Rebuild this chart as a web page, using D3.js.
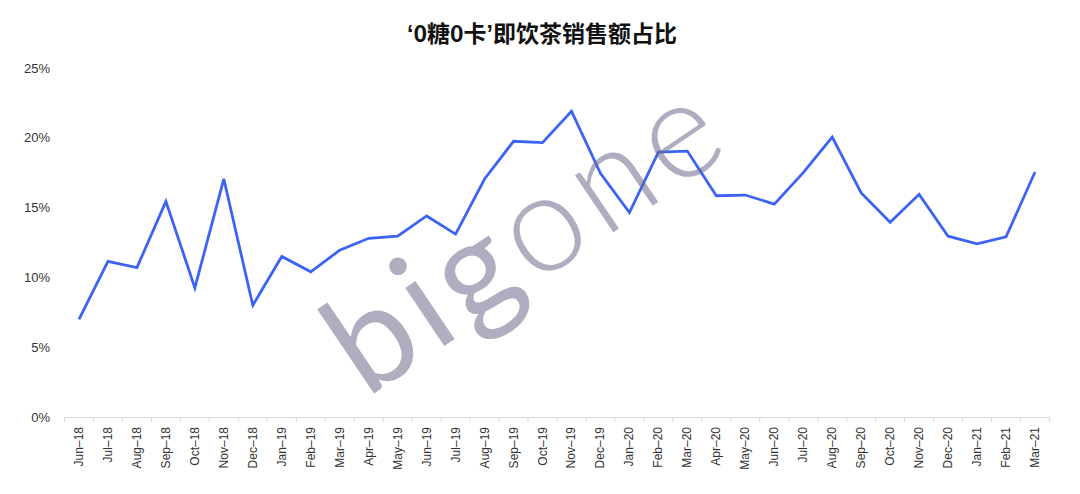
<!DOCTYPE html>
<html>
<head>
<meta charset="utf-8">
<script src="https://cdn.jsdelivr.net/npm/d3@7"></script>
<style>
  html, body { margin: 0; padding: 0; background: #fff; }
  svg { display: block; }
</style>
</head>
<body>
<svg id="chart" width="1080" height="494"></svg>
<script>
const months = ["Jun–18","Jul–18","Aug–18","Sep–18","Oct–18","Nov–18","Dec–18",
  "Jan–19","Feb–19","Mar–19","Apr–19","May–19","Jun–19","Jul–19","Aug–19","Sep–19","Oct–19","Nov–19","Dec–19",
  "Jan–20","Feb–20","Mar–20","Apr–20","May–20","Jun–20","Jul–20","Aug–20","Sep–20","Oct–20","Nov–20","Dec–20",
  "Jan–21","Feb–21","Mar–21"];
const shareValues = [7.0, 11.15, 10.7, 15.45, 9.25, 17.05, 8.0,
  11.5, 10.4, 11.95, 12.8, 12.95, 14.4, 13.1, 17.05, 19.75, 19.65, 21.9, 17.45,
  14.65, 18.98, 19.05, 15.85, 15.9, 15.25, 17.5, 20.05, 16.05, 13.95, 15.95, 12.95,
  12.4, 12.9, 17.55];
const yTicks = [0, 5, 10, 15, 20, 25];
const titleParts = [
  { t: "‘", latin: true }, { t: "0糖0卡", latin: false }, { t: "’", latin: true },
  { t: "即饮茶销售额占比", latin: false }
];
const watermarkParts = [{ t: "big", heavy: true }, { t: "one", heavy: false }];

const svg = d3.select("#chart");
const margin = { left: 64.5, right: 1049.5, top: 68, bottom: 417 };

const x = d3.scaleBand().domain(months).range([margin.left, margin.right]).padding(0);
const y = d3.scaleLinear().domain([0, 25]).range([margin.bottom, margin.top]);

// Title
const title = svg.append("text")
  .attr("x", 542).attr("y", 42)
  .attr("text-anchor", "middle")
  .attr("font-family", "'Noto Sans CJK SC', 'Noto Sans', sans-serif")
  .attr("font-weight", 700)
  .attr("font-size", 23)
  .attr("fill", "#111");
title.selectAll("tspan").data(titleParts).enter().append("tspan")
  .attr("font-family", d => d.latin ? "'Liberation Sans', Arial, sans-serif" : null)
  .text(d => d.t);

// Y axis (labels only)
const yAxis = d3.axisLeft(y).tickValues(yTicks).tickSize(0).tickPadding(0)
  .tickFormat(d => d + "%");
const gy = svg.append("g").attr("transform", "translate(50,0)").call(yAxis);
gy.select(".domain").remove();
gy.selectAll("text")
  .attr("font-family", "'Liberation Sans', Arial, sans-serif")
  .attr("font-size", 13)
  .attr("fill", "#333");

// X axis
const xAxis = d3.axisBottom(x).tickSizeOuter(0).tickSize(0).tickPadding(0);
const gx = svg.append("g").attr("transform", `translate(0,${margin.bottom})`).call(xAxis);
gx.select(".domain").attr("stroke", "#d9d9d9").attr("stroke-width", 1);
gx.selectAll(".tick line").remove();
gx.selectAll(".tick text")
  .attr("font-family", "'Liberation Sans', Arial, sans-serif")
  .attr("font-size", 12)
  .attr("fill", "#333")
  .attr("transform", "translate(4,10) rotate(-90)")
  .attr("text-anchor", "end")
  .attr("dy", 0)
  .attr("x", 0).attr("y", 0);
const boundaries = months.map(m => x(m)).concat([x(months[months.length - 1]) + x.bandwidth()]);
gx.selectAll("line.btick").data(boundaries).enter().append("line")
  .attr("class", "btick")
  .attr("x1", d => d).attr("x2", d => d)
  .attr("y1", 0).attr("y2", 5)
  .attr("stroke", "#d9d9d9").attr("stroke-width", 1);

// Line
const line = d3.line()
  .x((d, i) => x(months[i]) + x.bandwidth() / 2)
  .y(d => y(d));
svg.append("path")
  .datum(shareValues)
  .attr("d", line)
  .attr("fill", "none")
  .attr("stroke", "#3d63f5")
  .attr("stroke-width", 2.8)
  .attr("stroke-linejoin", "miter");

// Watermark
const wm = svg.append("text")
  .attr("transform", "translate(366,399) rotate(-34)")
  .attr("font-family", "Lato, 'Open Sans', sans-serif")
  .attr("font-size", 138)
  .attr("fill", "#6e6a8c")
  .attr("fill-opacity", 0.55)
  .attr("letter-spacing", 7);
wm.selectAll("tspan").data(watermarkParts).enter().append("tspan")
  .attr("font-weight", d => d.heavy ? 400 : 300)
  .text(d => d.t);
</script>
</body>
</html>
